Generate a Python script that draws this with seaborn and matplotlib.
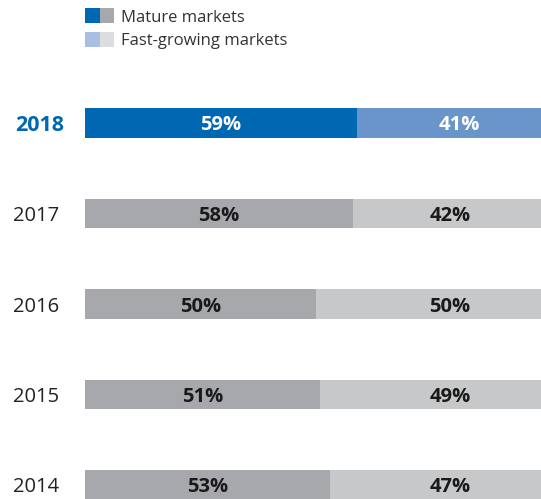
import matplotlib
matplotlib.use("Agg")
import matplotlib.pyplot as plt
import matplotlib.transforms as mtransforms
from matplotlib.patches import Patch
from matplotlib.legend_handler import HandlerTuple
import seaborn as sns
import pandas as pd

# Data
years = ["2018", "2017", "2016", "2015", "2014"]
mature = [59, 58, 50, 51, 53]
fast_growing = [41, 42, 50, 49, 47]
highlight_year = "2018"

# Colours
BLUE_DARK = "#0068B3"
BLUE_LIGHT = "#6A95CB"
GREY_DARK = "#A7A8AB"
GREY_LIGHT = "#C7C8CA"
LEG_BLUE_LIGHT = "#A9BFE2"
LEG_GREY_LIGHT = "#DCDDDF"

sns.set_theme(style="white")
plt.rcParams["font.family"] = ["Open Sans", "DejaVu Sans"]

df = pd.DataFrame({"year": years, "mature": mature, "fast": fast_growing})
df["total"] = df["mature"] + df["fast"]

W, H = 541, 499
fig = plt.figure(figsize=(W / 100, H / 100), dpi=100)

# axes placed in pixel terms: left edge of bars at 85 px, top of first slot at ~77 px
ax_left, ax_right = 85, 541
ax_top, ax_bottom = 77.75, 499
ax = fig.add_axes([ax_left / W, 1 - ax_bottom / H,
                   (ax_right - ax_left) / W, (ax_bottom - ax_top) / H])

mature_pal = {y: (BLUE_DARK if y == highlight_year else GREY_DARK) for y in years}
fast_pal = {y: (BLUE_LIGHT if y == highlight_year else GREY_LIGHT) for y in years}

bar_w = 0.33
sns.barplot(data=df, y="year", x="total", hue="year", order=years,
            palette=fast_pal, width=bar_w, legend=False, ax=ax,
            saturation=1, linewidth=0)
sns.barplot(data=df, y="year", x="mature", hue="year", order=years,
            palette=mature_pal, width=bar_w, legend=False, ax=ax,
            saturation=1, linewidth=0)

ax.set_xlim(0, 98.83)
ax.set_ylim(4 + 14 / 90.5, -0.5)
ax.set_xlabel("")
ax.set_ylabel("")
ax.set_xticks([])
ax.set_yticks([])
for s in ax.spines.values():
    s.set_visible(False)

# Value labels
for i, (y, m, f) in enumerate(zip(years, mature, fast_growing)):
    hl = y == highlight_year
    col = "white" if hl else "#1a1a1a"
    ax.text(m / 2, i, f"{m}%", ha="center", va="center_baseline",
            fontsize=14.5, fontweight="bold", color=col)
    ax.text(0.82 if hl else 0.80, i, f"{f}%", ha="center", va="center_baseline",
            fontsize=14.5, fontweight="bold", color=col,
            transform=mtransforms.blended_transform_factory(ax.transAxes, ax.transData))

# Year labels on the left
for i, y in enumerate(years):
    hl = y == highlight_year
    xr = (64 - ax_left) if hl else (59.5 - ax_left)
    trans = mtransforms.offset_copy(
        mtransforms.blended_transform_factory(ax.transAxes, ax.transData),
        fig=fig, x=xr, y=0, units="dots")
    ax.text(0, i, y, ha="right", va="center_baseline", transform=trans,
            fontsize=15.5 if hl else 14.5,
            fontweight="bold" if hl else "normal",
            color=BLUE_DARK if hl else "#222222")

# Legend with paired swatches
handles = [
    (Patch(facecolor=BLUE_DARK, lw=0), Patch(facecolor=GREY_DARK, lw=0)),
    (Patch(facecolor=LEG_BLUE_LIGHT, lw=0), Patch(facecolor=LEG_GREY_LIGHT, lw=0)),
]
fig.legend(handles, ["Mature markets", "Fast-growing markets"],
           handler_map={tuple: HandlerTuple(ndivide=None, pad=0)},
           loc="upper left", bbox_to_anchor=(82 / W, 1 - 5 / H),
           frameon=False, fontsize=12, handlelength=1.7, handleheight=1.0,
           handletextpad=0.45, labelspacing=0.4, borderaxespad=0,
           borderpad=0.2, labelcolor="#333333")

fig.savefig("out.png", dpi=100)
